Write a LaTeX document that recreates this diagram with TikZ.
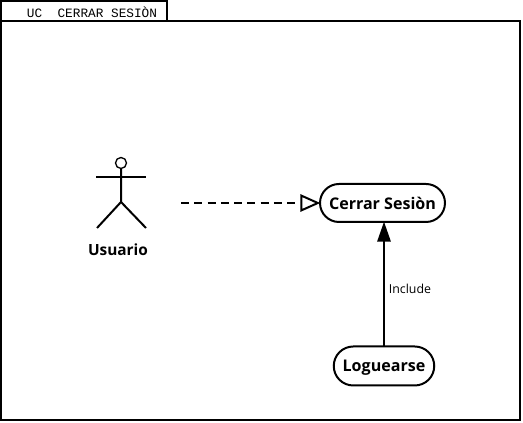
\documentclass[tikz,border=0pt]{standalone}
\usepackage{fontspec}
\setmainfont{Open Sans}
\setmonofont{Liberation Mono}
\usetikzlibrary{arrows.meta,shapes.misc}
\tikzset{
	line/.style={black,line width=1.5pt},
	usecase/.style={draw,line,rounded rectangle,text depth=0pt,font=\bfseries\fontsize{12.1}{14}\selectfont}
}
\begin{document}
\begin{tikzpicture}[scale=0.26458]
	\tikzstyle{every node}+=[inner sep=0pt]
	\useasboundingbox (0,0) rectangle (52.3,-42.3);
	\fill [white] (0,0) rectangle (52.3,-42.3);
	\draw [line] (0.1,-2.1) rectangle (52,-42);
	\draw [line] (0.1,-2.1) -- (0.1,-0.1) -- (16.7,-0.1) -- (16.7,-2.1);
	\node [font=\ttfamily\fontsize{9.6}{11}\selectfont] (title) at (9.2,-1.2) {UC\ \ CERRAR SESIÒN};
	\draw [line,line width=1pt] (12.1,-16.3) circle (0.55);
	\node [circle,minimum size=1.1*0.26458cm] (head) at (12.1,-16.3) {};
	\coordinate (hip) at (12.1,-20.2);
	\coordinate (armL) at (9.6,-17.7);
	\coordinate (armR) at (14.6,-17.7);
	\coordinate (footL) at (9.7,-22.8);
	\coordinate (footR) at (14.6,-22.8);
	\draw [line] (head) -- (hip);
	\draw [line] (armL) -- (armR);
	\draw [line] (footL) -- (hip) -- (footR);
	\node [font=\bfseries\fontsize{11.6}{14}\selectfont] (actor) at (11.8,-25) {Usuario};
	\node [usecase,minimum width=12.5*0.26458cm,minimum height=3.8*0.26458cm] (close) at (38.25,-20.3) {Cerrar Sesiòn};
	\node [usecase,minimum width=10.05*0.26458cm,minimum height=3.9*0.26458cm] (login) at (38.4,-36.6) {Loguearse};
	\coordinate (start) at (18.1,-20.3);
	\draw [line,shorten >=-1pt,dash pattern=on 6pt off 4pt,-{Triangle[open,fill=white,length=15pt,width=13pt]}] (start) -- (close.west);
	\draw [line,shorten >=-1pt,-{Triangle[length=15pt,width=10pt]}] (login.north) -- (close.south -| login.north);
	\node [font=\fontsize{9.3}{11}\selectfont] (incl) at (41,-28.85) {Include};
\end{tikzpicture}
\end{document}
